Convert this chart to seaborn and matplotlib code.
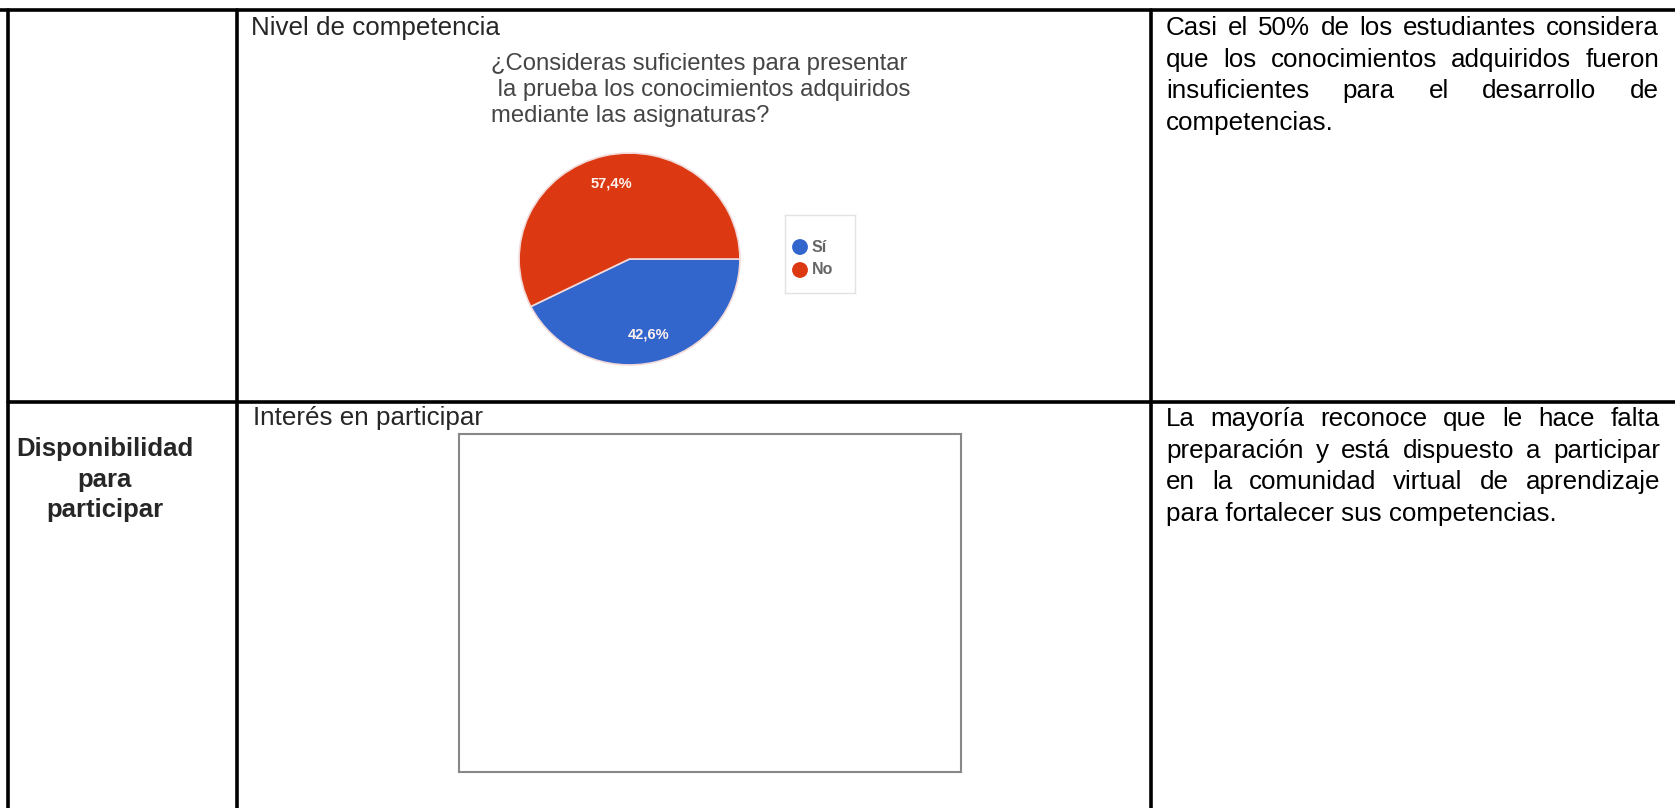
import matplotlib.pyplot as plt
import seaborn as sns
from matplotlib.lines import Line2D

# datos del gráfico
respuestas = ["Sí", "No"]
porcentajes = [42.6, 57.4]
colores = ["#3366cc", "#dc3912"]

titulo_pie = ["¿Consideras suficientes para presentar",
              " la prueba los conocimientos adquiridos",
              "mediante las asignaturas?"]
texto_fila1 = ["Casi el 50% de los estudiantes considera",
               "que los conocimientos adquiridos fueron",
               "insuficientes para el desarrollo de",
               "competencias."]
texto_fila2 = ["La mayoría reconoce que le hace falta",
               "preparación y está dispuesto a participar",
               "en la comunidad virtual de aprendizaje",
               "para fortalecer sus competencias."]
categoria = ["Disponibilidad", "para", "participar"]

W, H = 1675, 808

sns.set_theme(style="white")
plt.rcParams['font.family'] = ['Liberation Sans', 'DejaVu Sans']

fig = plt.figure(figsize=(W / 100, H / 100), dpi=100)
fig.patch.set_facecolor("white")


def fx(x):
    return x / W


def fy(y):
    return 1 - y / H


def linea(x0, y0, x1, y1, lw=2.6):
    fig.add_artist(Line2D([fx(x0), fx(x1)], [fy(y0), fy(y1)], color="black", lw=lw))


# bordes de la tabla
linea(0, 10, W, 10)
linea(8, 10, 8, H)
linea(237, 10, 237, H)
linea(1151, 10, 1151, H)
linea(8, 402, W, 402)


def justificado(lineas, x0, x1, y0, paso, size):
    renderer = fig.canvas.get_renderer()
    for i, txt in enumerate(lineas):
        y = fy(y0 + i * paso)
        palabras = txt.split()
        if i == len(lineas) - 1 or len(palabras) == 1:
            fig.text(fx(x0), y, txt, fontsize=size, va="baseline", ha="left", color="black")
            continue
        anchos = []
        for p in palabras:
            t = fig.text(0, 0, p, fontsize=size)
            anchos.append(t.get_window_extent(renderer).width)
            t.remove()
        hueco = (x1 - x0 - sum(anchos)) / (len(palabras) - 1)
        x = x0
        for p, a in zip(palabras, anchos):
            fig.text(fx(x), y, p, fontsize=size, va="baseline", ha="left", color="black")
            x += a + hueco


justificado(texto_fila1, 1166, 1659, 35, 31.7, 18.7)
justificado(texto_fila2, 1166, 1660, 426, 31.7, 18.7)

# columna izquierda
for i, t in enumerate(categoria):
    fig.text(fx(105), fy(456 + i * 30.5), t, fontsize=18.5, fontweight="bold",
             ha="center", va="baseline")

# columna central
fig.text(fx(251), fy(35), "Nivel de competencia", fontsize=18.7, va="baseline")
fig.text(fx(253), fy(425), "Interés en participar", fontsize=18.7, va="baseline")

for i, t in enumerate(titulo_pie):
    fig.text(fx(491), fy(70 + i * 26), t, fontsize=17.2, color="#454545", va="baseline")

# gráfico de pastel
ax = fig.add_axes([fx(518), fy(366), 223 / W, 214 / H])
wedges, textos, autotextos = ax.pie(
    porcentajes, colors=colores, startangle=0, counterclock=False,
    autopct=lambda p: f"{p:.1f}%".replace(".", ","), pctdistance=0.73,
    wedgeprops=dict(edgecolor="#f2d9d9", linewidth=1.2),
    textprops=dict(color="#fdf2ee", fontsize=10.5, fontweight="bold"))
ax.set_aspect("auto")
ax.set_xlim(-1.01, 1.01)
ax.set_ylim(-1.01, 1.01)
ax.axis("off")

# leyenda del pastel
axl = fig.add_axes([fx(785), fy(293), 70 / W, 78 / H])
sns.scatterplot(x=[15, 15], y=[32, 55], hue=respuestas, palette=colores,
                s=130, legend=False, edgecolor="none", ax=axl)
for yy, r in zip([32, 55], respuestas):
    axl.text(27, yy, r, fontsize=11.5, fontweight="bold", color="#666666",
             va="center", ha="left")
axl.set_xlim(0, 70)
axl.set_ylim(78, 0)
axl.set_xticks([])
axl.set_yticks([])
axl.set_xlabel("")
axl.set_ylabel("")
for s in axl.spines.values():
    s.set_color("#e3e3e3")
    s.set_linewidth(1)

# recuadro vacío
ax2 = fig.add_axes([fx(459), fy(772), 502 / W, 338 / H])
ax2.set_xticks([])
ax2.set_yticks([])
for s in ax2.spines.values():
    s.set_color("#888888")
    s.set_linewidth(1.5)

fig.savefig("out.png", dpi=100, facecolor="white")
